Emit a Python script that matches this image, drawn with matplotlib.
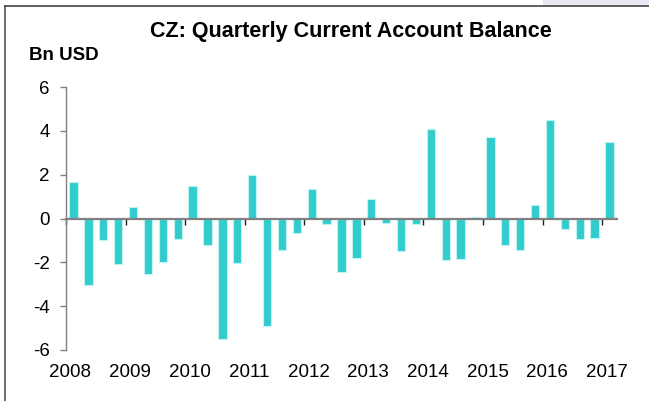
import matplotlib
matplotlib.use("Agg")
import matplotlib.pyplot as plt
from matplotlib.lines import Line2D
from matplotlib.patches import Rectangle
import numpy as np

plt.rcParams['font.family'] = ['Liberation Sans', 'DejaVu Sans']

# Data: quarterly current account balance, Bn USD, 2008Q1 .. 2017Q1
start_year = 2008
values = [1.68, -3.05, -0.96, -2.09,
          0.52, -2.52, -1.97, -0.95,
          1.47, -1.21, -5.50, -2.02,
          2.00, -4.90, -1.45, -0.66,
          1.33, -0.23, -2.45, -1.79,
          0.90, -0.21, -1.50, -0.24,
          4.09, -1.89, -1.85, 0.08,
          3.74, -1.22, -1.44, 0.60,
          4.50, -0.49, -0.93, -0.87,
          3.51]
year_labels = ['2008', '2009', '2010', '2011', '2012', '2013', '2014', '2015', '2016', '2017']
y_ticks = [-6, -4, -2, 0, 2, 4, 6]

title = "CZ: Quarterly Current Account Balance"
unit_label = "Bn USD"

bar_color = '#33CCCC'
edge_color = '#BFF2F2'
axis_grey = '#808080'

W, H = 649, 401
fig = plt.figure(figsize=(W / 100, H / 100), dpi=100)
fig.patch.set_facecolor('white')

ax = fig.add_axes([66 / W, 1 - 350 / H, (617 - 66) / W, (350 - 87) / H])

n = len(values)
x = start_year + (np.arange(n) + 0.5) / 4.0
ax.bar(x, values, width=0.14, color=bar_color, edgecolor=edge_color,
       linewidth=0.8, zorder=1)

years = np.array([int(s) for s in year_labels])
ax.set_xlim(start_year, start_year + n / 4.0)
ax.set_ylim(-6, 6)
ax.set_yticks(y_ticks)
ax.set_yticklabels([str(v) for v in y_ticks])

for s in ['top', 'right']:
    ax.spines[s].set_visible(False)
ax.spines['left'].set_color(axis_grey)
ax.spines['left'].set_linewidth(1.0)
ax.spines['bottom'].set_position(('data', 0))
ax.spines['bottom'].set_color(axis_grey)
ax.spines['bottom'].set_linewidth(1.6)
ax.spines['bottom'].set_zorder(3)

ax.set_xticks(years)
ax.set_xticklabels([''] * len(years))
ax.tick_params(axis='x', direction='out', length=4.1, width=1.0, color='#222222')
ax.tick_params(axis='y', direction='out', length=4.3, width=1.0, color=axis_grey,
               pad=7.5, labelsize=13.5, labelcolor='black')

sec = ax.secondary_xaxis(0.0)
sec.set_xticks(years + 0.075)
sec.set_xticklabels(year_labels)
sec.tick_params(length=0, pad=10, labelsize=13.5, labelcolor='black')
sec.spines['bottom'].set_visible(False)

fig.text(351 / W, 1 - 31.5 / H, title, ha='center', va='center',
         fontsize=15.5, fontweight='bold', color='black')
fig.text(29 / W, 1 - 55 / H, unit_label, ha='left', va='center',
         fontsize=13.5, fontweight='bold', color='black')

# frame of the original panel
fig.add_artist(Rectangle((543 / W, 1 - 5.5 / H), (W - 543) / W, 5.5 / H,
                         transform=fig.transFigure, facecolor='#E8E8F3',
                         edgecolor='none'))
fig.add_artist(Line2D([5 / W, 5 / W], [0, 1 - 6 / H], transform=fig.transFigure,
                      color='#555555', linewidth=1.2))
fig.add_artist(Line2D([5 / W, 1], [1 - 6 / H, 1 - 6 / H], transform=fig.transFigure,
                      color='#444444', linewidth=1.2))

fig.savefig('out.png', dpi=100)
